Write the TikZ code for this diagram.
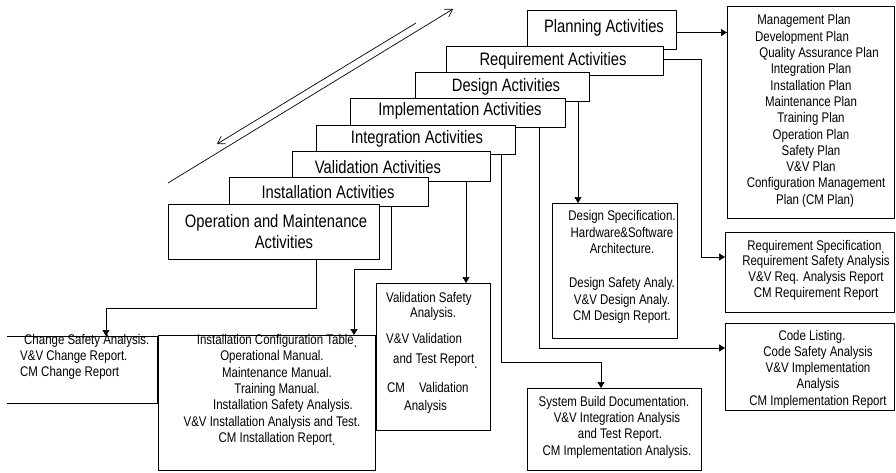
\documentclass[tikz,border=0pt]{standalone}
\usepackage{fontspec}
\setmainfont[FakeStretch=0.82]{Liberation Sans}
\usetikzlibrary{arrows.meta,shadows,calc}
\begin{document}
\begin{tikzpicture}[x=1pt,y=-1pt,
  box/.style={draw=black, line width=0.7pt, fill=white, inner sep=0pt, outer sep=0pt, anchor=north west,
    drop shadow={shadow xshift=1pt,shadow yshift=-1pt,fill=black!55,opacity=1}},
  stairtxt/.style={font=\fontsize{18}{21}\selectfont, inner sep=0pt, align=center},
  txt/.style={font=\fontsize{14}{16.3}\selectfont, inner sep=0pt, align=center},
  conn/.style={line width=0.7pt, -{Triangle[length=6pt,width=7pt]}},
  dia/.style={line width=0.7pt, -{Straight Barb[length=7pt,width=9pt]}}]
\useasboundingbox (0,0) rectangle (896,472);

% ---------- staircase of activities ----------
\node[box, minimum width=149pt, minimum height=39pt] (plan) at (527,10) {};
\node[stairtxt] (planT) at (604,28) {Planning Activities};
\node[box, minimum width=217pt, minimum height=29pt] (req) at (446,46) {};
\node[stairtxt] (reqT) at (553,61) {Requirement Activities};
\node[box, minimum width=174pt, minimum height=29pt] (design) at (415,72) {};
\node[stairtxt] (desT) at (506,87) {Design Activities};
\node[box, minimum width=215pt, minimum height=29pt] (impl) at (350,98) {};
\node[stairtxt] (impT) at (460,111) {Implementation Activities};
\node[box, minimum width=199pt, minimum height=29pt] (integ) at (316,125) {};
\node[stairtxt] (intT) at (417,139) {Integration Activities};
\node[box, minimum width=198pt, minimum height=30pt] (val) at (292,151) {};
\node[stairtxt] (valT) at (378,167) {Validation Activities};
\node[box, minimum width=199pt, minimum height=29pt] (inst) at (229,177) {};
\node[stairtxt] (insT) at (328,192) {Installation Activities};
\node[box, minimum width=211pt, minimum height=55pt] (op) at (168,204) {};
\node[stairtxt] (opT) at (276,232) {Operation and Maintenance\\\hspace*{16pt}Activities};

% ---------- diagonal arrows ----------
\coordinate (u1) at (168,183);
\coordinate (u2) at (453,9);
\coordinate (d1) at (416,23);
\coordinate (d2) at (217,144);
\draw[dia] (u1) -- (u2);
\draw[dia] (d1) -- (d2);

% ---------- output boxes ----------
\node[box, minimum width=167pt, minimum height=212pt] (planbox) at (727,6) {};
\node[txt] (planboxT) at (811,111) {\hspace*{-14pt}Management Plan\\\hspace*{-18pt}Development Plan\\\hspace*{16pt}Quality Assurance Plan\\Integration Plan\\Installation Plan\\Maintenance Plan\\Training Plan\\Operation Plan\\Safety Plan\\V\&V Plan\\\hspace*{10pt}Configuration Management\\\hspace*{8pt}Plan (CM Plan)};

\node[box, minimum width=169pt, minimum height=80pt] (reqbox) at (725,232) {};
\node[txt] (reqboxT) at (816,270) {Requirement Specification\raisebox{-3pt}{.}\\[-0.6pt]Requirement Safety Analysis\\[-0.6pt]V\&V Req. Analysis Report\\[-0.6pt]CM Requirement Report};

\node[box, minimum width=169pt, minimum height=87pt] (codebox) at (725,323) {};
\node[txt] (codeboxT) at (818,369) {\hspace*{-12pt}Code Listing.\\Code Safety Analysis\\V\&V Implementation\\Analysis\\CM Implementation Report};

\node[box, minimum width=125pt, minimum height=135pt] (dspec) at (552,203) {};
\node[txt] (dspecT) at (622,267) {Design Specification.\\Hardware\&Software\\Architecture.\\[18pt]Design Safety Analy.\\V\&V Design Analy.\\CM Design Report.};

\node[box, minimum width=174pt, minimum height=82pt] (sysb) at (527,388) {};
\node[txt] (sysbT) at (617,427) {\hspace*{-6pt}System Build Documentation.\\V\&V Integration Analysis\\\hspace*{6pt}and Test Report.\\CM Implementation Analysis.};

\node[box, minimum width=114pt, minimum height=147pt] (valbox) at (376,283) {};
\node[txt, anchor=base west] (vl1) at (386,302) {Validation Safety};
\node[txt, anchor=base west] (vl2) at (410,317) {Analysis.};
\node[txt, anchor=base west] (vl3) at (386,343) {V\&V Validation};
\node[txt, anchor=base west] (vl4) at (393,363) {and Test Report\raisebox{-5pt}{.}};
\node[txt, anchor=base west] (vl5) at (387,392) {CM\hspace{14pt}Validation};
\node[txt, anchor=base west] (vl6) at (404,410) {Analysis};

\node[box, minimum width=217pt, minimum height=135pt] (instbox) at (158,335) {};
\node[txt] (instboxT) at (277,390) {Installation Configuration Table\raisebox{-3pt}{.}\\\hspace*{-10pt}Operational Manual.\\Maintenance Manual.\\Training Manual.\\\hspace*{12pt}Installation Safety Analysis.\\\hspace*{-10pt}V\&V Installation Analysis and Test.\\CM Installation Report\raisebox{-3pt}{.}};

\node[inner sep=0pt, outer sep=0pt, anchor=north west, minimum width=150pt, minimum height=67pt] (change) at (7,336) {};
\draw[line width=0.7pt] (change.north west) -- (change.north east) -- (change.south east) -- (change.south west);
\node[txt, align=left, anchor=west] (changeT) at (20,357) {\hspace*{4pt}Change Safety Analysis.\\V\&V Change Report.\\CM Change Report};

% ---------- connectors ----------
\draw[conn] ([yshift=-3pt]plan.east) -- ([yshift=-3pt]plan.east -| planbox.west);
\draw[conn] ([yshift=1.5pt]req.east) -- ++(38,0) |- ([yshift=15pt]reqbox.west);
\draw[conn] ([xshift=76pt]design.south) -- ([xshift=76pt]design.south |- dspec.north);
\draw[conn] ([xshift=81.5pt]impl.south) |- ([yshift=18.5pt]codebox.west);
\draw[conn] ([xshift=85.5pt]integ.south) -- ++(0,208) -| ([xshift=-13pt]sysb.north);
\draw[conn] ([xshift=75pt]val.south) -- ([xshift=75pt]val.south |- valbox.north);
\draw[conn] ([xshift=62.5pt]inst.south) -- ++(0,63) -| ([xshift=87.5pt]instbox.north);
\draw[conn] ([xshift=42.5pt]op.south) -- ++(0,49) -| ([xshift=24pt]change.north);
\end{tikzpicture}
\end{document}
